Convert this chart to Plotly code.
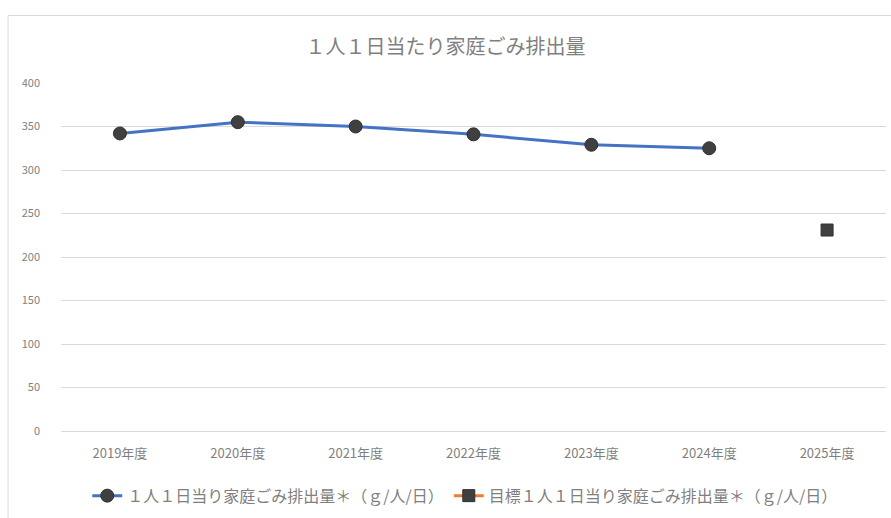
import plotly.graph_objects as go

categories = ["2019年度", "2020年度", "2021年度", "2022年度", "2023年度", "2024年度", "2025年度"]
actual = [342, 355, 350, 341, 329, 325, None]
target = [None, None, None, None, None, None, 231]
yticks = [0, 50, 100, 150, 200, 250, 300, 350, 400]

title_text = "１人１日当たり家庭ごみ排出量"
name_actual = "１人１日当り家庭ごみ排出量＊（ｇ/人/日）"
name_target = "目標１人１日当り家庭ごみ排出量＊（ｇ/人/日）"

FONT = "Noto Sans CJK JP"
GRAY = "#7F7F7F"

fig = go.Figure()
fig.add_trace(go.Scatter(
    x=categories, y=actual, name=name_actual, mode="lines+markers",
    line=dict(color="#4472C4", width=3),
    marker=dict(symbol="circle", size=13, color="#404040",
                line=dict(color="#303030", width=1)),
))
fig.add_trace(go.Scatter(
    x=categories, y=target, name=name_target, mode="lines+markers",
    line=dict(color="#ED7D31", width=3),
    marker=dict(symbol="square", size=12, color="#404040",
                line=dict(color="#303030", width=1)),
))

fig.update_layout(
    width=891, height=518,
    margin=dict(l=61, r=5, t=83, b=85),
    paper_bgcolor="white", plot_bgcolor="white",
    font=dict(family=FONT, color=GRAY, size=11),
    title=dict(text=title_text, x=0.5, xanchor="center", y=0.909, yanchor="middle",
               font=dict(family=FONT, size=20, color=GRAY)),
    showlegend=True,
    legend=dict(orientation="h", x=0.49, xanchor="center", y=-0.186, yanchor="middle",
                font=dict(family=FONT, size=16, color=GRAY), itemwidth=30,
                bgcolor="rgba(0,0,0,0)"),
    xaxis=dict(type="category", range=[-0.5, 6.5], showgrid=False, showline=True,
               linecolor="#D9D9D9", ticks="", tickfont=dict(family=FONT, size=13, color=GRAY),
               zeroline=False, ticklabelstandoff=10),
    yaxis=dict(range=[0, 400], tickvals=yticks, showgrid=True, gridcolor="#D9D9D9",
               gridwidth=1, zeroline=False, showline=False, ticks="",
               tickfont=dict(family=FONT, size=11, color=GRAY), ticklabelstandoff=20),
    shapes=[
        dict(type="line", xref="paper", yref="paper", x0=-0.0642, x1=1.01, y0=1.194, y1=1.194,
             line=dict(color="#D9D9D9", width=1)),
        dict(type="line", xref="paper", yref="paper", x0=-0.0642, x1=-0.0642, y0=1.194, y1=-0.25,
             line=dict(color="#D9D9D9", width=1)),
    ],
)

fig.write_html("out.html", config={"displayModeBar": False},
               post_script="document.body.style.margin='0';document.body.style.overflow='hidden';")
